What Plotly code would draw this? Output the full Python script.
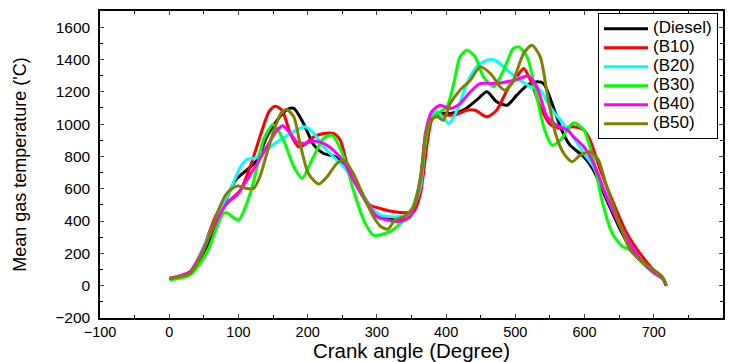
import plotly.graph_objects as go

# ---- data ----
names = ["(Diesel)", "(B10)", "(B20)", "(B30)", "(B40)", "(B50)"]
colors = ["#000000", "#ff0000", "#00ffff", "#00ff00", "#ff00ff", "#808000"]

diesel_x = [0, 30, 54, 74, 88, 98, 112, 127, 141, 156, 170, 180, 194, 209, 223, 240, 254, 271, 286, 300, 314, 334, 353, 363, 370, 377, 387, 406, 425, 444, 459, 473, 488, 502, 517, 531, 541, 553, 567, 579, 599, 613, 632, 652, 671, 690, 709, 714, 718]
diesel_y = [45, 76, 241, 447, 592, 664, 715, 777, 921, 1025, 1090, 1097, 1004, 870, 818, 798, 736, 633, 509, 447, 416, 410, 468, 653, 901, 1024, 1066, 1066, 1086, 1148, 1200, 1138, 1117, 1179, 1241, 1262, 1251, 1128, 963, 870, 798, 715, 530, 344, 200, 118, 56, 40, 0]

b10_x = [0, 30, 50, 69, 88, 103, 117, 131, 144, 153, 163, 175, 187, 194, 209, 223, 237, 247, 257, 271, 290, 305, 319, 339, 353, 363, 372, 379, 387, 411, 430, 442, 459, 473, 488, 502, 512, 522, 536, 550, 565, 584, 599, 608, 623, 642, 661, 680, 700, 712, 718]
b10_y = [45, 86, 241, 447, 530, 592, 736, 921, 1076, 1111, 1086, 942, 860, 870, 921, 942, 942, 901, 756, 633, 499, 478, 462, 451, 457, 571, 860, 1024, 1055, 1055, 1086, 1086, 1045, 1086, 1210, 1292, 1344, 1272, 1107, 1000, 973, 984, 963, 901, 715, 509, 324, 200, 97, 56, 0]

b20_x = [0, 30, 50, 69, 88, 103, 112, 122, 131, 146, 160, 175, 189, 196, 209, 223, 237, 252, 271, 290, 305, 329, 348, 363, 370, 377, 387, 396, 404, 416, 430, 444, 459, 471, 488, 507, 522, 536, 550, 565, 579, 599, 613, 632, 652, 671, 690, 709, 714, 718]
b20_y = [45, 86, 241, 427, 592, 736, 781, 787, 808, 860, 901, 942, 973, 983, 942, 860, 798, 736, 633, 488, 437, 426, 447, 612, 901, 1024, 1076, 1035, 1004, 1086, 1251, 1354, 1395, 1395, 1334, 1272, 1231, 1210, 1107, 1024, 950, 819, 736, 550, 365, 221, 118, 66, 45, 0]

b30_x = [0, 30, 54, 69, 78, 83, 100, 117, 127, 136, 150, 165, 180, 192, 206, 223, 235, 252, 266, 281, 295, 319, 334, 348, 363, 370, 377, 387, 401, 411, 420, 430, 442, 454, 469, 483, 497, 505, 517, 531, 541, 553, 565, 584, 599, 613, 625, 640, 654, 666, 680, 700, 712, 718]
b30_y = [35, 66, 200, 365, 447, 451, 406, 571, 736, 901, 998, 901, 736, 664, 777, 911, 932, 798, 592, 406, 313, 334, 385, 447, 653, 880, 1024, 1066, 1107, 1251, 1416, 1457, 1416, 1292, 1231, 1334, 1468, 1478, 1416, 1169, 983, 870, 901, 1008, 963, 777, 530, 324, 245, 221, 159, 76, 45, 0]

b40_x = [0, 30, 50, 69, 83, 98, 112, 127, 141, 156, 164, 175, 184, 194, 209, 223, 237, 252, 266, 286, 300, 319, 329, 348, 363, 370, 379, 391, 406, 420, 435, 449, 469, 488, 502, 519, 531, 546, 560, 575, 584, 599, 613, 632, 652, 671, 690, 709, 714, 718]
b40_y = [45, 86, 231, 406, 509, 561, 653, 756, 860, 963, 990, 942, 891, 880, 895, 880, 839, 767, 653, 509, 427, 403, 395, 426, 653, 942, 1076, 1117, 1097, 1127, 1200, 1251, 1251, 1262, 1276, 1297, 1231, 1045, 993, 963, 922, 860, 757, 550, 365, 221, 118, 56, 40, 0]

b50_x = [0, 30, 50, 69, 83, 98, 112, 122, 131, 141, 153, 163, 170, 180, 189, 201, 216, 228, 242, 252, 266, 281, 295, 306, 316, 326, 339, 353, 363, 370, 377, 387, 396, 406, 420, 435, 449, 464, 478, 485, 497, 512, 524, 536, 546, 558, 570, 582, 594, 608, 620, 632, 652, 666, 680, 700, 712, 718]
b50_y = [45, 76, 220, 447, 571, 616, 602, 602, 674, 818, 983, 1076, 1090, 1045, 880, 695, 629, 674, 756, 777, 695, 550, 427, 365, 350, 406, 426, 488, 674, 921, 1024, 1045, 1024, 1128, 1210, 1272, 1354, 1313, 1231, 1210, 1272, 1437, 1488, 1416, 1189, 942, 818, 767, 808, 829, 777, 612, 365, 221, 159, 97, 56, 0]

series_x = [diesel_x, b10_x, b20_x, b30_x, b40_x, b50_x]
series_y = [diesel_y, b10_y, b20_y, b30_y, b40_y, b50_y]

x_tick_vals = [-100, 0, 100, 200, 300, 400, 500, 600, 700, 800]
y_tick_vals = [-200, 0, 200, 400, 600, 800, 1000, 1200, 1400, 1600]

FONT = "Liberation Sans, Arial, sans-serif"

fig = go.Figure()
for nm, col, xs, ys in zip(names, colors, series_x, series_y):
    fig.add_trace(go.Scatter(
        x=xs, y=ys, mode="lines",
        name="<span style='font-size:17px'>" + nm + "</span>",
        line=dict(color=col, width=3, shape="spline", smoothing=0.7),
    ))

fig.update_layout(
    width=735, height=362,
    margin=dict(l=100, r=12, t=11, b=44, autoexpand=False),
    paper_bgcolor="white", plot_bgcolor="white",
    font=dict(family=FONT, color="black"),
    showlegend=True,
    legend=dict(
        x=0.992, y=0.993, xanchor="right", yanchor="top",
        bgcolor="white", bordercolor="black", borderwidth=1,
        font=dict(size=12, family=FONT, color="black"),
        tracegroupgap=0, itemwidth=44,
    ),
    xaxis=dict(
        range=[-100, 800], tickvals=x_tick_vals, ticks="inside", ticklen=4,
        showgrid=False, zeroline=False, showline=True, linecolor="black", linewidth=1.5,
        mirror="ticks", tickfont=dict(size=14.5, family=FONT), automargin=False,
        minor=dict(dtick=50, ticks="inside", ticklen=3, tickcolor="black"),
        title=dict(text="Crank angle (Degree)", font=dict(size=20.5, family=FONT)),
    ),
    yaxis=dict(
        range=[-200, 1700], tickvals=y_tick_vals, ticks="inside", ticklen=4,
        showgrid=False, zeroline=False, showline=True, linecolor="black", linewidth=1.5,
        mirror="ticks", tickfont=dict(size=15.5, family=FONT), automargin=False,
        ticklabelstandoff=5,
        minor=dict(dtick=100, ticks="inside", ticklen=3, tickcolor="black"),
        title=dict(text="Mean gas temperature ('C)", font=dict(size=18, family=FONT), standoff=24),
    ),
)

fig.write_html("out.html")
